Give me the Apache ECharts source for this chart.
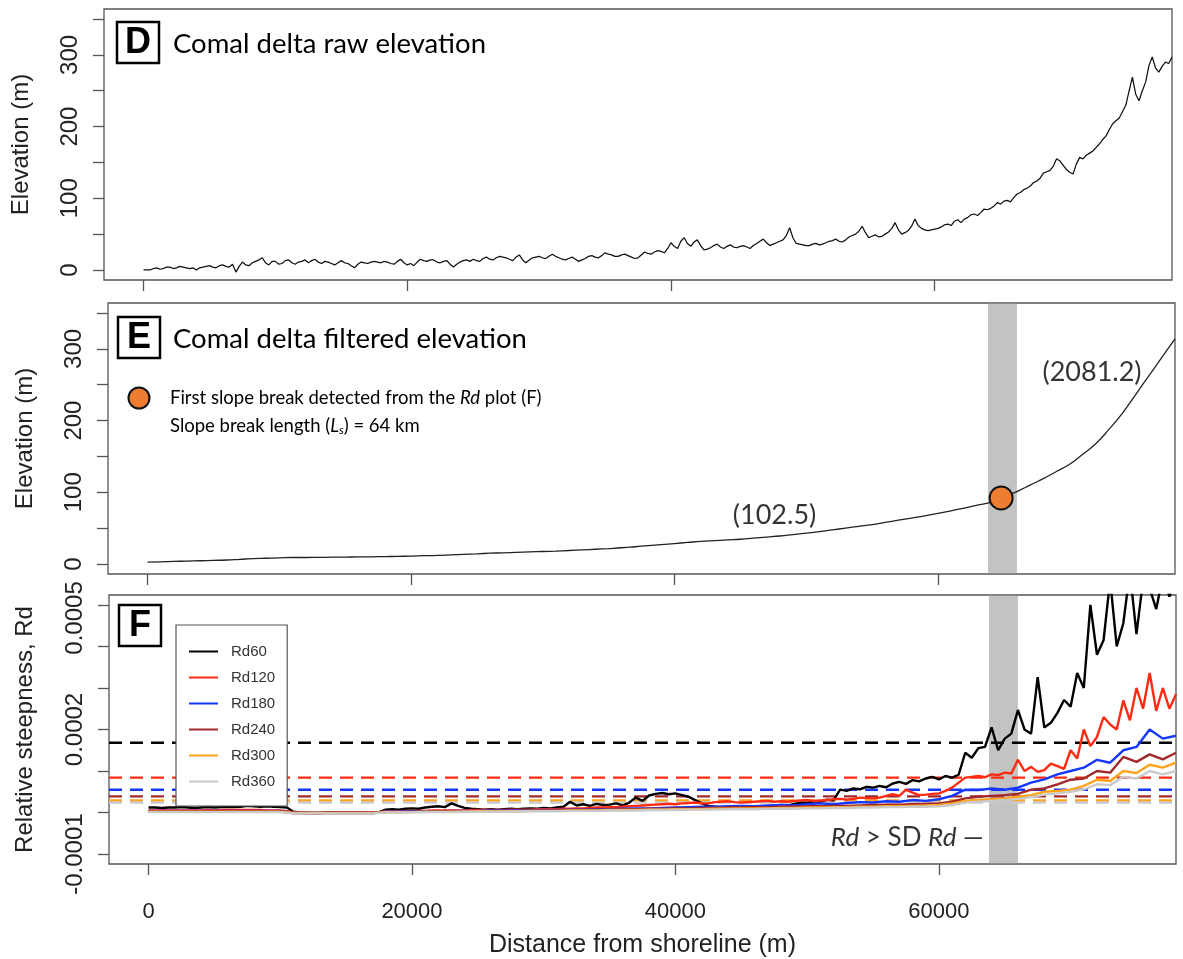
<!DOCTYPE html>
<html>
<head>
<meta charset="utf-8">
<script src="https://cdn.jsdelivr.net/npm/echarts@6/dist/echarts.min.js"></script>
<style>
  html, body { margin: 0; padding: 0; background: #fff; }
  #chart { width: 1183px; height: 959px; }
</style>
</head>
<body>
<div id="chart"></div>
<script>
// ---- axis ticks and labels ----
const distanceTicks = [0, 20000, 40000, 60000];
const elevationTicks = [0, 50, 100, 150, 200, 250, 300, 350];
const elevationTickLabels = [0, 100, 200, 300];
const rdTicks = [-0.0001, 0, 0.0001, 0.0002, 0.0003, 0.0004, 0.0005];
const rdTickLabels = [-0.0001, 0.0002, 0.0005];

// ---- D: raw elevation (m), one value every 250 m from the shoreline ----
const rawStep = 250;
const rawElevation = [
  0, 0, 0, 2, 3, 1, 2, 4, 4, 2, 3, 5, 4, 3, 2, 3, 0, 3, 4, 5,
  6, 4, 3, 6, 7, 5, 4, 8, -3, 5, 11, 7, 6, 10, 12, 14, 17, 10, 7, 12,
  12, 8, 9, 13, 14, 10, 8, 11, 12, 14, 10, 13, 15, 11, 9, 12, 11, 9, 7, 10,
  13, 10, 9, 6, 3, 8, 11, 10, 9, 11, 12, 11, 10, 12, 11, 9, 8, 12, 15, 10,
  7, 9, 6, 11, 15, 13, 12, 14, 14, 11, 10, 12, 13, 8, 4, 8, 11, 13, 14, 12,
  15, 13, 12, 16, 18, 15, 14, 17, 19, 18, 17, 15, 13, 18, 21, 14, 10, 14, 17, 18,
  19, 17, 16, 19, 22, 19, 17, 15, 14, 16, 18, 15, 12, 14, 16, 19, 20, 18, 17, 20,
  24, 22, 21, 19, 19, 21, 22, 20, 18, 16, 17, 21, 25, 23, 22, 25, 27, 26, 24, 30,
  38, 33, 30, 40, 45, 37, 33, 39, 42, 34, 28, 29, 31, 34, 36, 32, 30, 33, 35, 32,
  31, 33, 34, 32, 30, 34, 37, 40, 43, 38, 34, 36, 38, 40, 42, 48, 59, 45, 37, 36,
  35, 34, 34, 36, 37, 35, 36, 38, 40, 41, 43, 40, 39, 42, 46, 48, 50, 54, 61, 52,
  45, 47, 49, 46, 47, 50, 53, 58, 66, 56, 50, 52, 55, 61, 71, 62, 58, 56, 55, 56,
  57, 58, 60, 63, 64, 62, 68, 70, 66, 71, 73, 77, 78, 76, 80, 85, 84, 86, 89, 94,
  92, 96, 97, 95, 101, 106, 108, 112, 114, 117, 122, 124, 128, 135, 137, 139, 145, 155, 152, 146,
  140, 136, 134, 148, 157, 155, 160, 163, 166, 171, 176, 182, 187, 196, 204, 208, 212, 221, 230, 250,
  269, 245, 236, 250, 262, 285, 297, 282, 276, 284, 290, 288, 297
];

// ---- E: filtered elevation (m), one value every 1000 m ----
const filteredStep = 1000;
const filteredElevation = [
  2.5, 3, 3.5, 4, 4.5, 5, 5.5, 6.5, 7.5, 8,
  8.5, 9, 9, 9.2, 9.4, 9.6, 9.8, 10, 10.3, 10.6,
  11, 11.5, 12, 12.8, 13.5, 14.2, 15, 15.6, 16.2, 16.8,
  17.4, 18, 18.8, 19.6, 20.5, 21.5, 22.6, 24, 25.5, 27,
  28.5, 30, 31.5, 32.5, 33.5, 34.5, 36, 37.5, 39, 41,
  43, 45, 47.5, 50, 52.5, 55, 58, 61, 64, 67,
  70.5, 74, 78, 82, 86, 93, 101, 110, 119, 129,
  139, 153, 168, 188, 210, 236, 262, 288, 314
];

// first slope break: [distance (m), elevation (m)] and the shaded window (m)
const slopeBreak = [64800, 92];
const slopeBreakWindow = [63800, 66000];
const segmentLabels = ['(102.5)', '(2081.2)'];

// ---- F: relative steepness Rd, in units of 1e-6 ----
const rdScale = 1e-6;
const rdFineStep = 500;
const rd60 = [
  12, 12, 11, 12, 12, 13, 12, 11, 12, 13,
  12, 13, 14, 13, 14, 16, 15, 14, 15, 14,
  13, 12, 2, 0, -1, -1, -1, 0, 1, 0,
  0, 0, 0, 0, -1, 1, 7, 8, 7, 9,
  10, 9, 12, 14, 15, 13, 22, 16, 11, 9,
  8, 7, 8, 7, 8, 9, 8, 9, 10, 9,
  11, 10, 12, 14, 26, 17, 20, 16, 21, 18,
  19, 22, 17, 24, 36, 28, 41, 45, 47, 44,
  46, 42, 38, 30, 22, 16, 14, 12, 13, 11,
  13, 12, 14, 13, 15, 14, 18, 16, 21, 24,
  23, 27, 26, 31, 29, 55, 52, 58, 56, 62,
  60, 64, 61, 70, 74, 69, 78, 75, 82, 86,
  80, 88, 84, 91, 144, 132, 155, 158, 205, 150,
  178, 190, 247, 200, 190, 326, 205, 216, 240, 271,
  255, 336, 300, 500, 380, 415, 560, 400, 456, 580,
  430, 560, 540, 490, 570, 520, 560
];
const rd120 = [
  5, 5, 5, 5, 5, 5, 5, 5, 5, 6, 5, 6, 6, 6, 6, 6, 6, 6, 5, 5, 5,
  3, 0, 0, 0, -1, -1, 0, 0, 0, 0, 0, 0, 0, 1, 1,
  3, 3, 3, 4, 4, 4, 4, 5, 5, 5, 5, 5, 5, 6, 6, 6, 6, 6, 6, 7, 7, 7, 7, 8, 8,
  8, 8, 9, 9, 10, 10, 11, 12, 12, 13, 13, 14, 15, 16, 17, 18, 19, 20, 21, 20,
  22, 23, 24, 22, 22, 25, 26, 27, 25, 24, 25, 26, 27, 28, 26, 27, 26, 28, 29, 30,
  28, 29, 30, 32, 33, 31, 33, 36, 35, 34, 36, 40, 44, 40, 55, 48, 42, 43, 45, 46,
  52, 60, 72, 84, 86, 88, 85, 92, 90, 96, 94, 127, 100, 110, 98, 102, 118, 112,
  105, 150, 130, 200, 160, 182, 230, 212, 200, 270, 222, 300, 250, 336, 245, 300, 250, 285
];
const rdStep = 1000;
const rd180 = [
  4, 4, 4, 4, 4, 4, 4, 4, 4, 4, 4,
  -1, -1, -1, -1, -1, -1, -1,
  2, 2, 3, 3, 3, 4, 4, 4, 5, 5, 5, 6, 6,
  6, 7, 7, 8, 8, 9, 10, 10, 11, 12,
  13, 14, 14, 15, 16, 15, 17, 18, 17, 20,
  22, 20, 23, 25, 24, 27, 26, 30, 28, 32,
  40, 55, 54, 58, 55, 60, 72, 80, 92, 100,
  108, 127, 120, 150, 158, 200, 178, 185
];
const rd240 = [
  3, 3, 3, 3, 3, 3, 3, 3, 3, 3, 3,
  -1, -1, -1, -1, -1, -1, -1,
  1, 1, 2, 2, 2, 3, 3, 3, 4, 4, 4, 5, 5,
  5, 6, 6, 7, 7, 8, 8, 9, 9, 10,
  10, 11, 11, 12, 12, 13, 13, 14, 14, 15,
  15, 16, 16, 17, 18, 19, 19, 20, 21, 22,
  26, 34, 38, 40, 42, 45, 55, 58, 68, 79,
  82, 100, 96, 134, 122, 140, 128, 144
];
const rd300 = [
  2, 2, 2, 2, 2, 2, 2, 2, 2, 2, 2,
  -1, -1, -1, -1, -1, -1, -1,
  1, 1, 1, 2, 2, 2, 2, 3, 3, 3, 3, 4, 4,
  4, 5, 5, 5, 6, 6, 6, 7, 7, 8,
  8, 8, 9, 9, 10, 10, 10, 11, 11, 12,
  12, 13, 13, 14, 14, 15, 15, 16, 17, 18,
  22, 28, 30, 32, 34, 38, 42, 50, 52, 55,
  64, 79, 76, 100, 95, 115, 108, 120
];
const rd360 = [
  1, 1, 1, 1, 1, 1, 1, 1, 1, 1, 1,
  -2, -2, -2, -2, -2, -2, -2,
  0, 0, 1, 1, 1, 1, 2, 2, 2, 2, 3, 3, 3,
  3, 4, 4, 4, 5, 5, 5, 6, 6, 6,
  7, 7, 7, 8, 8, 8, 9, 9, 9, 10,
  10, 11, 11, 12, 12, 13, 13, 14, 14, 15,
  18, 24, 26, 28, 30, 33, 37, 43, 46, 50,
  56, 68, 66, 86, 82, 100, 92, 100
];
const rdNames = ['Rd60', 'Rd120', 'Rd180', 'Rd240', 'Rd300', 'Rd360'];
const rdSeries = [rd60, rd120, rd180, rd240, rd300, rd360];
const rdSteps = [rdFineStep, rdFineStep, rdStep, rdStep, rdStep, rdStep];
// standard deviation of each Rd curve (units of 1e-6)
const rdSd = [168, 84, 55, 39, 29, 24];

// ---- styling ----
const rdColors = ['#000000', '#ff2a12', '#1437ff', '#a1282c', '#ffa31a', '#c9c9c9'];
const axisFont = '"Liberation Sans", Arial, sans-serif';
const textFont = 'Lato, "Open Sans", sans-serif';
const boxColor = '#555';
const bandColor = 'rgba(150,150,150,0.57)';
const xMin = -3000, xMax = 78000;

const toPairs = (arr, step, scale = 1) => arr.map((v, i) => [i * step, v * scale]);

const grids = [
  { left: 104, top: 9, width: 1068, height: 271 },
  { left: 108, top: 303, width: 1067, height: 271 },
  { left: 109, top: 595, width: 1067, height: 270 }
].map(g => Object.assign({ show: true, borderColor: boxColor, borderWidth: 1.3, backgroundColor: 'transparent' }, g));

function xAxisFor(i) {
  const last = i === 2;
  return {
    gridIndex: i, type: 'value', min: xMin, max: xMax,
    axisLine: { show: false, onZero: false },
    axisTick: { show: true, length: 11, customValues: distanceTicks, lineStyle: { color: boxColor, width: 1.3 } },
    axisLabel: {
      show: last, customValues: distanceTicks, margin: 37, fontSize: 22, color: '#222', fontFamily: axisFont,
      formatter: v => String(v)
    },
    splitLine: { show: false },
    name: last ? 'Distance from shoreline (m)' : '',
    nameLocation: 'middle', nameGap: 69,
    nameTextStyle: { fontSize: 25, color: '#222', fontFamily: axisFont }
  };
}

function elevationAxis(i) {
  return {
    gridIndex: i, type: 'value', min: -14, max: 364,
    axisLine: { show: false, onZero: false },
    axisTick: { show: true, length: 11, customValues: elevationTicks, lineStyle: { color: boxColor, width: 1.3 } },
    axisLabel: { customValues: elevationTickLabels, rotate: 90, margin: 22, fontSize: 24, color: '#222', fontFamily: axisFont },
    splitLine: { show: false },
    name: 'Elevation (m)', nameLocation: 'middle', nameGap: 71,
    nameTextStyle: { fontSize: 24, color: '#222', fontFamily: axisFont }
  };
}

const rdAxis = {
  gridIndex: 2, type: 'value', min: -0.000124, max: 0.000524,
  axisLine: { show: false, onZero: false },
  axisTick: { show: true, length: 11, customValues: rdTicks, lineStyle: { color: boxColor, width: 1.3 } },
  axisLabel: {
    customValues: rdTickLabels, rotate: 90, margin: 22, fontSize: 24, color: '#222', fontFamily: axisFont,
    formatter: v => {
      const s = v.toFixed(4);
      // the top label sits a little below its tick so it stays inside the panel
      return v > 0.00049 ? '{top|' + s + '}' : s;
    },
    rich: { top: { fontSize: 24, color: '#222', fontFamily: axisFont, padding: [0, 26, 0, 0] } }
  },
  splitLine: { show: false },
  name: 'Relative steepness, Rd', nameLocation: 'middle', nameGap: 72,
  nameTextStyle: { fontSize: 24, color: '#222', fontFamily: axisFont }
};

const series = [];

// D: raw profile
series.push({
  type: 'line', xAxisIndex: 0, yAxisIndex: 0, symbol: 'none', silent: true,
  data: toPairs(rawElevation, rawStep),
  lineStyle: { color: '#111', width: 1.25 }, z: 2
});

// E: filtered profile
series.push({
  type: 'line', xAxisIndex: 1, yAxisIndex: 1, symbol: 'none', silent: true, smooth: true,
  data: toPairs(filteredElevation, filteredStep),
  lineStyle: { color: '#222', width: 1.3 }, z: 2
});

// F: SD threshold of each Rd curve, dashed across the panel
rdNames.forEach((name, k) => {
  series.push({
    type: 'line', xAxisIndex: 2, yAxisIndex: 2, symbol: 'none', silent: true, z: 2,
    data: [[xMin, rdSd[k] * rdScale], [xMax, rdSd[k] * rdScale]],
    lineStyle: { color: rdColors[k], type: [13, 8], width: 2.4 }
  });
});

// F: Rd curves
rdNames.forEach((name, k) => {
  series.push({
    name, type: 'line', xAxisIndex: 2, yAxisIndex: 2, symbol: 'none', silent: true,
    data: toPairs(rdSeries[k], rdSteps[k], rdScale),
    lineStyle: { color: rdColors[k], width: 2.4 },
    itemStyle: { color: rdColors[k] },
    z: 3
  });
});

// shaded slope-break window in E and F
[1, 2].forEach(g => {
  series.push({
    type: 'line', xAxisIndex: g, yAxisIndex: g, symbol: 'none', silent: true, z: 5,
    data: [], lineStyle: { opacity: 0 },
    markArea: {
      silent: true, itemStyle: { color: bandColor },
      data: [[{ xAxis: slopeBreakWindow[0] }, { xAxis: slopeBreakWindow[1] }]]
    }
  });
});

// slope-break marker on the filtered profile
series.push({
  type: 'scatter', xAxisIndex: 1, yAxisIndex: 1, silent: true, z: 8,
  data: [slopeBreak], symbolSize: 23,
  itemStyle: { color: '#ed7d31', borderColor: '#111', borderWidth: 2, opacity: 1 }
});

// text notes anchored in data space
const notes = [
  { grid: 1, at: [47600, 68], text: segmentLabels[0], align: 'center', size: 27 },
  { grid: 1, at: [71700, 268], text: segmentLabels[1], align: 'center', size: 27 },
  { grid: 2, at: [63400, -0.00006], text: '{i|Rd} > SD {i|Rd} —', align: 'right', size: 26 }
];
notes.forEach(n => {
  series.push({
    type: 'scatter', xAxisIndex: n.grid, yAxisIndex: n.grid, silent: true, z: 9,
    symbolSize: 0, data: [n.at],
    label: {
      show: true, position: 'inside', align: n.align, verticalAlign: 'middle',
      formatter: n.text, fontSize: n.size, fontFamily: textFont, color: '#000',
      rich: { i: { fontSize: n.size, fontFamily: textFont, fontStyle: 'italic', color: '#000' } }
    }
  });
});

// panel tags and titles
function tag(letter, x, y) {
  return [
    { type: 'rect', shape: { x, y, width: 42, height: 41 }, style: { fill: '#fff', stroke: '#000', lineWidth: 2.5 }, z: 20 },
    { type: 'text', x: x + 21, y: y + 21, z: 21,
      style: { text: letter, fontSize: 36, fontWeight: 'bold', fontFamily: axisFont, fill: '#000', align: 'center', verticalAlign: 'middle' } }
  ];
}
function title(text, x, y) {
  return { type: 'text', x, y, z: 21,
    style: { text, fontSize: 27.5, fontFamily: textFont, fill: '#000', align: 'left', verticalAlign: 'middle' } };
}

const graphic = [
  ...tag('D', 117, 22),
  title('Comal delta raw elevation', 173, 44),
  ...tag('E', 118, 317),
  title('Comal delta filtered elevation', 173, 339),
  ...tag('F', 119, 605),
  { type: 'circle', shape: { cx: 139, cy: 398, r: 10.5 }, style: { fill: '#ed7d31', stroke: '#111', lineWidth: 2 }, z: 21 },
  { type: 'text', x: 170, y: 398, z: 21,
    style: {
      text: 'First slope break detected from the {i|Rd} plot (F)',
      fontSize: 18.5, fontFamily: textFont, fill: '#000', verticalAlign: 'middle',
      rich: { i: { fontSize: 18.5, fontFamily: textFont, fontStyle: 'italic', fill: '#000' } }
    } },
  { type: 'text', x: 170, y: 426, z: 21,
    style: {
      text: 'Slope break length ({i|L}{s|s}) = 64 km',
      fontSize: 18.5, fontFamily: textFont, fill: '#000', verticalAlign: 'middle',
      rich: {
        i: { fontSize: 18.5, fontFamily: textFont, fontStyle: 'italic', fill: '#000' },
        s: { fontSize: 12, fontFamily: textFont, fontStyle: 'italic', fill: '#000', padding: [9, 0, 0, 0] }
      }
    } }
];

const chart = echarts.init(document.getElementById('chart'), null, { renderer: 'canvas' });
chart.setOption({
  animation: false,
  backgroundColor: '#fff',
  grid: grids,
  xAxis: [xAxisFor(0), xAxisFor(1), xAxisFor(2)],
  yAxis: [elevationAxis(0), elevationAxis(1), rdAxis],
  legend: {
    data: rdNames, orient: 'vertical', left: 176, top: 625,
    padding: [19, 12, 17, 13], itemGap: 11, itemWidth: 29, itemHeight: 2,
    icon: 'rect',
    backgroundColor: '#fff', borderColor: boxColor, borderWidth: 1.2,
    selectedMode: false,
    textStyle: { fontSize: 15, lineHeight: 14, fontFamily: axisFont, color: '#333', padding: [0, 0, 0, 8] },
    z: 10
  },
  series,
  graphic
});
</script>
</body>
</html>
